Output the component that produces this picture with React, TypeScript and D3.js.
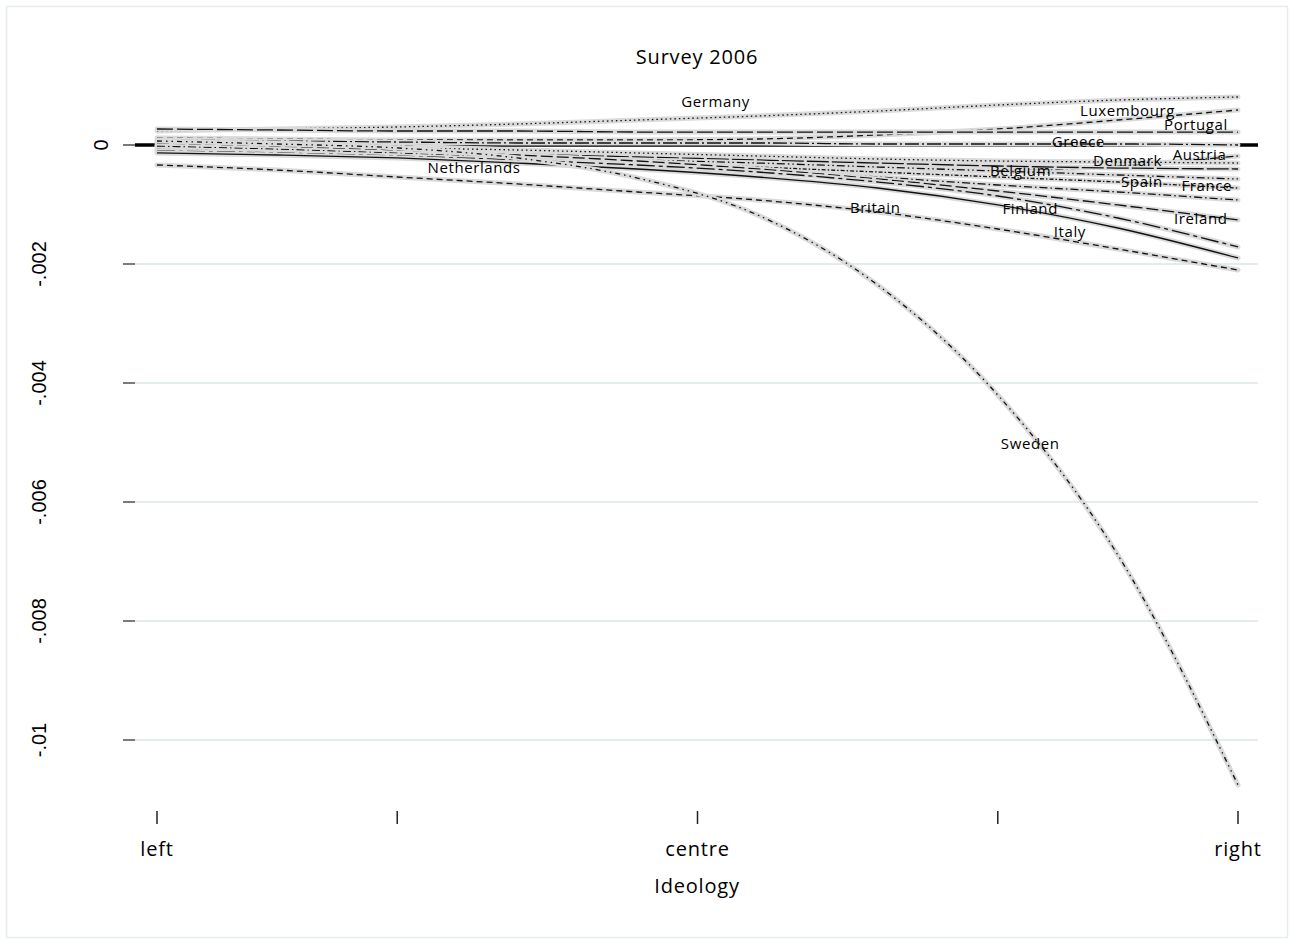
import React from "react";
import * as d3 from "d3";

// Ideology positions (1 = left ... 10 = right)
const ideology = [1, 2, 3, 4, 5, 6, 7, 8, 9, 10];

// Effects, in thousandths (x 0.001)
const germany = [0.235, 0.269, 0.303, 0.353, 0.42, 0.487, 0.571, 0.672, 0.756, 0.807];
const luxembourg = [0.118, 0.101, 0.084, 0.084, 0.084, 0.101, 0.168, 0.269, 0.42, 0.588];
const portugal = [0.269, 0.252, 0.235, 0.235, 0.218, 0.218, 0.218, 0.218, 0.218, 0.218];
const greece = [0.084, 0.067, 0.05, 0.034, 0.034, 0.034, 0.017, 0.017, 0.017, 0.0];
const austria = [0.05, 0.034, -0.017, -0.084, -0.168, -0.269, -0.37, -0.437, -0.353, -0.185];
const denmark = [0.0, -0.017, -0.05, -0.084, -0.134, -0.185, -0.235, -0.269, -0.286, -0.303];
const belgium = [-0.034, -0.067, -0.101, -0.151, -0.202, -0.252, -0.303, -0.353, -0.387, -0.403];
const netherlands = [-0.084, -0.118, -0.151, -0.202, -0.252, -0.303, -0.37, -0.437, -0.504, -0.571];
const spain = [-0.067, -0.101, -0.151, -0.218, -0.286, -0.37, -0.454, -0.538, -0.622, -0.723];
const france = [-0.017, -0.067, -0.134, -0.218, -0.319, -0.42, -0.538, -0.672, -0.79, -0.924];
const ireland = [0.034, -0.017, -0.084, -0.168, -0.269, -0.403, -0.571, -0.773, -1.008, -1.261];
const finland = [-0.101, -0.134, -0.185, -0.252, -0.336, -0.454, -0.622, -0.857, -1.227, -1.714];
const italy = [-0.134, -0.168, -0.218, -0.303, -0.403, -0.538, -0.723, -1.008, -1.395, -1.899];
const britain = [-0.336, -0.42, -0.538, -0.655, -0.79, -0.924, -1.126, -1.412, -1.748, -2.101];
const sweden = [0.067, 0.017, -0.05, -0.218, -0.555, -1.176, -2.353, -4.202, -6.891, -10.756];

const countries = [
  "Germany", "Luxembourg", "Portugal", "Greece", "Austria", "Denmark", "Belgium",
  "Netherlands", "Spain", "France", "Ireland", "Finland", "Italy", "Britain", "Sweden",
];
const seriesValues = [
  germany, luxembourg, portugal, greece, austria, denmark, belgium,
  netherlands, spain, france, ireland, finland, italy, britain, sweden,
];
// label anchor (ideology, value in thousandths)
const labelIdeology = [5.65, 9.08, 9.65, 8.67, 9.68, 9.08, 8.19, 3.64, 9.2, 9.74, 9.69, 8.27, 8.6, 6.98, 8.27];
const labelValue = [0.74, 0.59, 0.35, 0.067, -0.15, -0.25, -0.42, -0.37, -0.61, -0.67, -1.23, -1.06, -1.45, -1.04, -5.01];

const yTicks = [0, -2, -4, -6, -8, -10];
const yTickLabels = ["0", "-.002", "-.004", "-.006", "-.008", "-.01"];
const xTicks = [1, 3, 5.5, 8, 10];
const xTickLabels = ["left", "", "centre", "", "right"];

const dashes = [
  "1.5,3", // Germany dot
  "6,4", // Luxembourg dash
  "16,4", // Portugal longdash
  "14,3,2,3", // Greece longdash dot
  "8,3,1.5,3", // Austria dash dot
  "1.5,3", // Denmark dot
  "22,3", // Belgium
  "8,3,1.5,3,1.5,3", // Netherlands
  "4,2,1.5,2", // Spain
  "8,3,1.5,3", // France
  "12,4", // Ireland
  "18,4,4,4", // Finland
  "", // Italy solid
  "6,4", // Britain dash
  "5,4,1.5,4,1.5,4", // Sweden
];

const W = 1292;
const H = 940;
const FONT = "'Open Sans', 'DejaVu Sans', sans-serif";

export default function App() {
  const x = d3.scaleLinear().domain([1, 10]).range([157, 1238]);
  const y = d3.scaleLinear().domain([0, -10]).range([145, 740]);
  const line = d3
    .line<[number, number]>()
    .x((d) => x(d[0]))
    .y((d) => y(d[1]))
    .curve(d3.curveMonotoneX);

  return (
    <svg
      width={W}
      height={H}
      style={{ position: "absolute", left: 0, top: 0, background: "#fff" }}
    >
      <rect x={0} y={0} width={W} height={H} fill="#fff" />
      <rect x={6.5} y={6.5} width={1281} height={931} fill="none" stroke="#e6edf0" strokeWidth={1.5} />

      {/* title */}
      <text x={697} y={64} textAnchor="middle" fontFamily={FONT} fontSize={20} letterSpacing={0.8} fill="#000">
        Survey 2006
      </text>

      {/* gridlines */}
      {yTicks.map((t) =>
        t === 0 ? null : (
          <line key={"g" + t} x1={135} x2={1258} y1={y(t)} y2={y(t)} stroke="#e4eded" strokeWidth={2} />
        )
      )}
      {/* zero line */}
      <line x1={135} x2={1258} y1={y(0)} y2={y(0)} stroke="#000" strokeWidth={3.5} />

      {/* y ticks */}
      {yTicks.map((t, i) => (
        <g key={"yt" + t}>
          <line x1={123} x2={135} y1={y(t)} y2={y(t)} stroke="#222" strokeWidth={1.2} />
          <text
            transform={`translate(${t === 0 ? 108 : 46},${y(t)}) rotate(-90)`}
            textAnchor="middle"
            fontFamily="'Liberation Sans', Arial, sans-serif"
            fontSize={20}
            fill="#000"
          >
            {yTickLabels[i]}
          </text>
        </g>
      ))}

      {/* x ticks */}
      {xTicks.map((t, i) => (
        <g key={"xt" + t}>
          <line x1={x(t)} x2={x(t)} y1={811} y2={824} stroke="#222" strokeWidth={1.5} />
          {xTickLabels[i] && (
            <text x={x(t)} y={856} textAnchor="middle" fontFamily={FONT} fontSize={20} letterSpacing={0.8} fill="#000">
              {xTickLabels[i]}
            </text>
          )}
        </g>
      ))}
      <text x={697} y={893} textAnchor="middle" fontFamily={FONT} fontSize={20} letterSpacing={0.8} fill="#000">
        Ideology
      </text>

      {/* series */}
      {seriesValues.map((vals, i) => {
        const pts = ideology.map((t, j) => [t, vals[j]] as [number, number]);
        const d = line(pts) || "";
        return (
          <g key={countries[i]}>
            <path d={d} fill="none" stroke="#dadada" strokeWidth={5} strokeLinecap="round" />
            <path
              d={d}
              fill="none"
              stroke="#111"
              strokeWidth={1.3}
              strokeDasharray={dashes[i] || undefined}
            />
          </g>
        );
      })}

      {/* labels */}
      {countries.map((c, i) => (
        <text
          key={"l" + c}
          x={x(labelIdeology[i])}
          y={y(labelValue[i])}
          textAnchor="middle"
          dominantBaseline="central"
          fontFamily={FONT}
          fontSize={15}
          letterSpacing={0.6}
          fill="#000"
        >
          {c}
        </text>
      ))}
    </svg>
  );
}
